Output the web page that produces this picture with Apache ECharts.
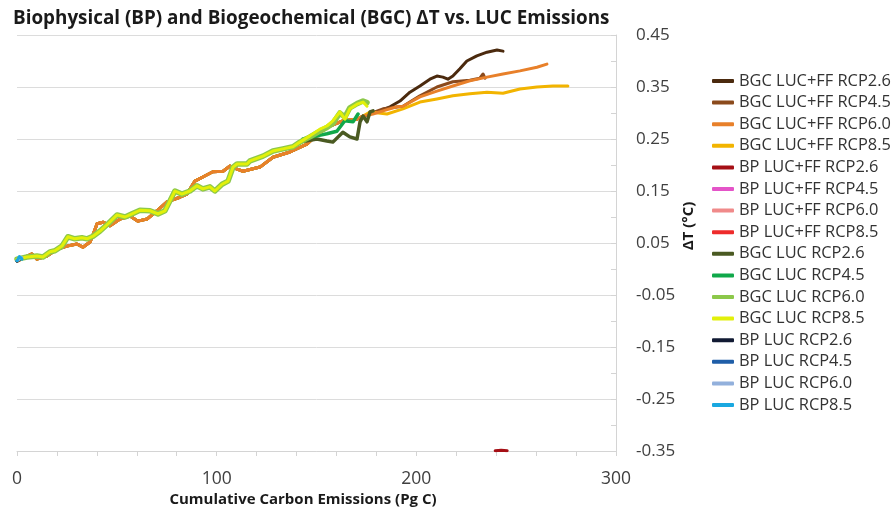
<!DOCTYPE html>
<html>
<head>
<meta charset="utf-8">
<script src="https://cdn.jsdelivr.net/npm/echarts@6/dist/echarts.min.js"></script>
<style>
html,body{margin:0;padding:0;background:#fff;}
#chart{width:893px;height:511px;}
</style>
</head>
<body>
<div id="chart"></div>
<script>
// ---- data ----
const xTickLabels = ['0', '100', '200', '300'];
const yTickLabels = ['-0.35', '-0.25', '-0.15', '-0.05', '0.05', '0.15', '0.25', '0.35', '0.45'];

const seriesNames = [
  'BGC LUC+FF RCP2.6', 'BGC LUC+FF RCP4.5', 'BGC LUC+FF RCP6.0', 'BGC LUC+FF RCP8.5',
  'BP LUC+FF RCP2.6', 'BP LUC+FF RCP4.5', 'BP LUC+FF RCP6.0', 'BP LUC+FF RCP8.5',
  'BGC LUC RCP2.6', 'BGC LUC RCP4.5', 'BGC LUC RCP6.0', 'BGC LUC RCP8.5',
  'BP LUC RCP2.6', 'BP LUC RCP4.5', 'BP LUC RCP6.0', 'BP LUC RCP8.5'
];
const seriesColors = [
  '#4b2a0e', '#8b4a1c', '#e8802a', '#f2b400',
  '#a50f15', '#e454c8', '#f08a8a', '#ee2b2b',
  '#4a5a22', '#10a84a', '#8cc84a', '#e2f00a',
  '#111a33', '#1f5ea8', '#92b0dc', '#1aa8e0'
];

// shared early path of the BGC LUC+FF runs (overlapping in the picture)
const lucffTrunk = [[0,0.015],[7.5,0.029],[10.0,0.019],[15.0,0.025],[20.0,0.038],[25.0,0.044],[30.0,0.048],[33.0,0.042],[36.6,0.052],[38.5,0.070],[40.1,0.087],[43.1,0.090],[46.6,0.083],[51.6,0.096],[56.6,0.102],[60.6,0.092],[65.1,0.096],[70.1,0.112],[75.1,0.129],[81.6,0.138],[85.1,0.144],[89.1,0.169],[93.1,0.177],[98.1,0.187],[103.2,0.188],[106.7,0.198],[110.2,0.192],[113.2,0.188],[121.7,0.196],[128.2,0.215],[136.7,0.225],[145.2,0.240],[151.7,0.263],[156.7,0.275],[163.2,0.285],[170.3,0.288],[173.3,0.294]];
const bgcFF26Tail = [[181.8,0.304],[186.8,0.312],[191.8,0.323],[196.8,0.340],[201.8,0.352],[206.8,0.365],[210.3,0.371],[213.3,0.369],[215.8,0.365],[218.3,0.371],[221.8,0.385],[225.3,0.400],[230.3,0.410],[235.4,0.417],[240.4,0.421],[243.4,0.419]];
const bgcFF45Tail = [[183.3,0.308],[193.3,0.313],[201.8,0.333],[210.3,0.350],[218.3,0.360],[226.8,0.363],[231.8,0.367],[233.4,0.375],[234.4,0.367]];
const bgcFF60Tail = [[178.3,0.298],[183.3,0.304],[190.3,0.312],[193.3,0.313],[201.8,0.331],[210.3,0.342],[218.3,0.352],[226.8,0.362],[235.4,0.369],[243.4,0.375],[251.9,0.381],[260.4,0.388],[265.4,0.394]];
const bgcFF85Tail = [[176.8,0.302],[185.3,0.298],[193.3,0.308],[201.8,0.321],[210.3,0.327],[218.3,0.333],[226.8,0.337],[235.4,0.340],[243.4,0.338],[251.9,0.346],[260.4,0.350],[268.4,0.352],[275.9,0.352]];

const bpFF26 = [[239.5,-0.3495],[242.5,-0.3485],[245.5,-0.3495]];
const bpFF45 = [];
const bpFF60 = [];
const bpFF85 = [];

// shared early path of the BGC LUC runs
const lucTrunk = [[0,0.019],[5.0,0.023],[10.0,0.025],[13.0,0.023],[16.5,0.033],[19.0,0.035],[22.5,0.044],[25.5,0.062],[29.0,0.058],[32.5,0.060],[35.1,0.058],[38.1,0.063],[41.6,0.073],[45.6,0.087],[50.1,0.104],[54.1,0.100],[57.6,0.106],[61.6,0.113],[66.6,0.112],[70.6,0.106],[74.1,0.112],[76.6,0.131],[79.1,0.150],[82.6,0.144],[86.6,0.150],[90.1,0.160],[93.1,0.154],[96.6,0.158],[99.1,0.150],[102.7,0.163],[105.7,0.169],[108.2,0.196],[110.2,0.202],[115.2,0.202],[116.7,0.208],[123.2,0.217],[128.2,0.227],[133.2,0.231],[138.2,0.235],[141.7,0.244]];
const bgcLuc26Tail = [[150.2,0.250],[155.2,0.246],[158.2,0.244],[163.2,0.263],[166.7,0.254],[170.3,0.250],[171.8,0.283],[173.3,0.294],[175.3,0.283],[176.8,0.302],[178.3,0.304]];
const bgcLuc45Tail = [[143.2,0.250],[150.2,0.256],[155.2,0.260],[160.2,0.265],[164.2,0.285],[168.3,0.283],[170.8,0.298]];
const bgcLuc60Tail = [[146.7,0.254],[151.7,0.265],[155.2,0.272],[158.2,0.280],[161.7,0.300],[164.2,0.292],[166.7,0.310],[170.3,0.318],[173.3,0.323],[175.3,0.320]];
const bgcLuc85Tail = [[146.7,0.256],[151.7,0.269],[155.2,0.275],[158.2,0.285],[161.7,0.302],[164.2,0.288],[166.7,0.308],[170.3,0.317],[173.3,0.321],[175.3,0.313]];

const bpLuc26 = [[0,0.015],[2.0,0.020]];
const bpLuc45 = [[0,0.016],[2.2,0.021]];
const bpLuc60 = [[0,0.016],[2.4,0.022]];
const bpLuc85 = [[0,0.016],[1.2,0.024],[2.5,0.019]];

// ---- chart ----
const FONT = 'Open Sans';
const seriesData = {
  'BGC LUC+FF RCP2.6': lucffTrunk.concat(bgcFF26Tail),
  'BGC LUC+FF RCP4.5': lucffTrunk.concat(bgcFF45Tail),
  'BGC LUC+FF RCP6.0': lucffTrunk.concat(bgcFF60Tail),
  'BGC LUC+FF RCP8.5': lucffTrunk.concat(bgcFF85Tail),
  'BP LUC+FF RCP2.6': bpFF26,
  'BP LUC+FF RCP4.5': bpFF45,
  'BP LUC+FF RCP6.0': bpFF60,
  'BP LUC+FF RCP8.5': bpFF85,
  'BGC LUC RCP2.6': lucTrunk.concat(bgcLuc26Tail),
  'BGC LUC RCP4.5': lucTrunk.concat(bgcLuc45Tail),
  'BGC LUC RCP6.0': lucTrunk.concat(bgcLuc60Tail),
  'BGC LUC RCP8.5': lucTrunk.concat(bgcLuc85Tail),
  'BP LUC RCP2.6': bpLuc26,
  'BP LUC RCP4.5': bpLuc45,
  'BP LUC RCP6.0': bpLuc60,
  'BP LUC RCP8.5': bpLuc85
};
const widths = {
  'BGC LUC RCP6.0': 5.5, 'BGC LUC RCP8.5': 3, 'BGC LUC RCP2.6': 3.5, 'BGC LUC RCP4.5': 3.5
};
// drawing order (legend order is kept separately)
const drawOrder = [
  'BGC LUC+FF RCP2.6', 'BGC LUC+FF RCP4.5', 'BGC LUC+FF RCP8.5', 'BGC LUC+FF RCP6.0',
  'BP LUC+FF RCP2.6', 'BP LUC+FF RCP4.5', 'BP LUC+FF RCP6.0', 'BP LUC+FF RCP8.5',
  'BGC LUC RCP2.6', 'BGC LUC RCP4.5', 'BGC LUC RCP6.0', 'BGC LUC RCP8.5',
  'BP LUC RCP2.6', 'BP LUC RCP4.5', 'BP LUC RCP6.0', 'BP LUC RCP8.5'
];

const series = drawOrder.map(name => {
  const c = seriesColors[seriesNames.indexOf(name)];
  return {
    name: name,
    type: 'line',
    yAxisIndex: 0,
    data: seriesData[name],
    showSymbol: false,
    symbol: 'none',
    clip: true,
    color: c,
    lineStyle: { color: c, width: widths[name] || 3, cap: 'round', join: 'round' },
    emphasis: { disabled: true },
    animation: false
  };
});

const chart = echarts.init(document.getElementById('chart'), null, { renderer: 'canvas' });
chart.setOption({
  animation: false,
  backgroundColor: '#ffffff',
  title: {
    text: 'Biophysical (BP) and Biogeochemical (BGC) ΔT vs. LUC Emissions',
    left: 8, top: 4,
    textStyle: { fontFamily: FONT, fontWeight: 'bold', fontSize: 18.85, color: '#1a1a1a' }
  },
  grid: { left: 17, top: 35, width: 599, height: 416, containLabel: false },
  legend: {
    orient: 'vertical',
    left: 707, top: 68,
    icon: 'roundRect',
    itemWidth: 22, itemHeight: 4,
    itemGap: 5.6,
    data: seriesNames,
    selectedMode: false,
    textStyle: { fontFamily: FONT, fontSize: 16.4, color: '#333333', lineHeight: 16 }
  },
  xAxis: {
    type: 'value', min: 0, max: 300, interval: 20,
    axisLine: { show: true, onZero: false, lineStyle: { color: '#d4d4d4', width: 1 } },
    axisTick: { show: true, length: 5, lineStyle: { color: '#d4d4d4' } },
    splitLine: { show: false },
    axisLabel: {
      margin: 19, fontFamily: FONT, fontSize: 17.5, color: '#404040',
      formatter: v => xTickLabels.includes(String(Math.round(v))) && Math.abs(v - Math.round(v)) < 1e-6 ? String(Math.round(v)) : ''
    }
  },
  yAxis: [
    {
      type: 'value', position: 'right', min: -0.35, max: 0.45, interval: 0.05,
      axisLine: { show: true, onZero: false, lineStyle: { color: '#d4d4d4', width: 1 } },
      axisTick: { show: true, inside: true, length: 5, lineStyle: { color: '#d4d4d4' } },
      splitLine: { show: false },
      axisLabel: {
        margin: 20, fontFamily: FONT, fontSize: 17, color: '#404040',
        formatter: v => { const s = v.toFixed(2); return yTickLabels.includes(s) ? s : ''; }
      }
    },
    {
      // helper axis: grid lines at the labelled ticks only (8 equal steps)
      type: 'value', position: 'right', min: 0, max: 8, interval: 1,
      axisLine: { show: false, onZero: false }, axisTick: { show: false }, axisLabel: { show: false },
      splitLine: { show: true, lineStyle: { color: '#dcdcdc', width: 1 } }
    }
  ],
  graphic: [
    {
      type: 'text', x: 303, y: 500,
      style: { text: 'Cumulative Carbon Emissions (Pg C)', font: 'bold 15px "Open Sans"', fill: '#1a1a1a', textAlign: 'center', textVerticalAlign: 'middle' }
    },
    {
      type: 'text', x: 689, y: 226, rotation: Math.PI / 2,
      style: { text: 'ΔT (°C)', font: 'bold 15px "Open Sans"', fill: '#1a1a1a', textAlign: 'center', textVerticalAlign: 'middle' }
    }
  ],
  series: series
});
</script>
</body>
</html>
